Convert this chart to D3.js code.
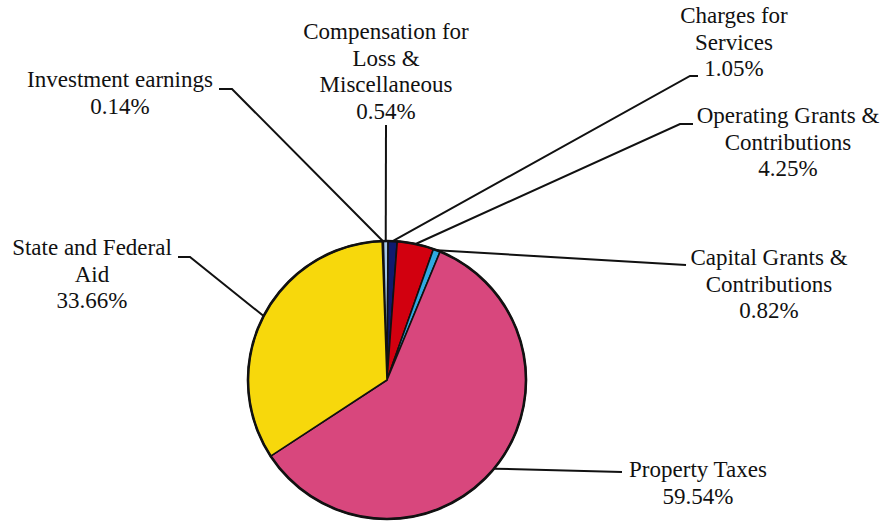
<!DOCTYPE html>
<html>
<head>
<meta charset="utf-8">
<script src="https://cdn.jsdelivr.net/npm/d3@7"></script>
<style>
  html, body { margin: 0; padding: 0; background: #fff; }
  svg { display: block; }
  text { font-family: 'Liberation Serif', 'Times New Roman', Times, 'DejaVu Serif', serif; }
</style>
</head>
<body>
<div id="pie-area"></div>
<script>
// revenue sources, clockwise from 12 o'clock
const categories = [
  "Investment earnings",
  "Compensation for Loss & Miscellaneous",
  "Charges for Services",
  "Operating Grants & Contributions",
  "Capital Grants & Contributions",
  "Property Taxes",
  "State and Federal Aid"
];
const values = [0.14, 0.54, 1.05, 4.25, 0.82, 59.54, 33.66];
const labelLines = [
  ["Investment earnings"],
  ["Compensation for", "Loss &", "Miscellaneous"],
  ["Charges for", "Services"],
  ["Operating Grants &", "Contributions"],
  ["Capital Grants &", "Contributions"],
  ["Property Taxes"],
  ["State and Federal", "Aid"]
];
const colors = ["#1a1a1a", "#a6c8ea", "#0f1a6e", "#d2000f", "#2fa9e2", "#d8477d", "#f7d80c"];

// label layout (text centre, first baseline, leader path after the pie point)
const labelPos = [
  {x: 120, y: 87, leader: [[232, 89], [219, 89]]},
  {x: 386, y: 39, leader: [[386, 125]]},
  {x: 734, y: 23, leader: [[690, 76], [698, 76]]},
  {x: 788, y: 123, leader: [[680, 124], [693, 124]]},
  {x: 769, y: 265, leader: [[686, 265]]},
  {x: 698, y: 477, leader: [[622, 472]]},
  {x: 92, y: 255, leader: [[190, 257], [178, 257]]}
];

const width = 886;
const height = 522;
const cx = 387, cy = 380, radius = 139;
const lineGap = 26.5;

const data = categories.map((c, i) => ({name: c, value: values[i], i}));

const pie = d3.pie()
  .sort(null)
  .value(d => d.value)
  .startAngle(-2 * Math.PI / 180)
  .endAngle(2 * Math.PI - 2 * Math.PI / 180);

const arc = d3.arc().innerRadius(0).outerRadius(radius);

const svg = d3.select('#pie-area').append('svg')
  .attr('width', width)
  .attr('height', height);

svg.append('rect').attr('width', width).attr('height', height).attr('fill', '#fff');

const arcs = pie(data);

// leader lines first so the pie covers their ends
const edge = a => {
  const m = (a.startAngle + a.endAngle) / 2;
  return [cx + radius * Math.sin(m), cy - radius * Math.cos(m)];
};

svg.append('g')
  .selectAll('path')
  .data(arcs)
  .join('path')
  .attr('fill', 'none')
  .attr('stroke', '#111')
  .attr('stroke-width', 2)
  .attr('d', a => d3.line()([edge(a), ...labelPos[a.data.i].leader]));

const g = svg.append('g').attr('transform', `translate(${cx},${cy})`);

g.selectAll('path')
  .data(arcs)
  .join('path')
  .attr('d', arc)
  .attr('fill', a => colors[a.data.i])
  .attr('stroke', '#111')
  .attr('stroke-width', 1.6)
  .attr('stroke-linejoin', 'round');

g.append('circle')
  .attr('r', radius)
  .attr('fill', 'none')
  .attr('stroke', '#111')
  .attr('stroke-width', 2.6);

// labels
const labels = svg.append('g')
  .attr('font-family', "'Liberation Serif', 'Times New Roman', serif")
  .attr('font-size', 23)
  .attr('fill', '#111')
  .attr('text-anchor', 'middle');

arcs.forEach(a => {
  const i = a.data.i;
  const lines = labelLines[i].concat([values[i].toFixed(2) + '%']);
  const t = labels.append('text')
    .attr('x', labelPos[i].x)
    .attr('y', labelPos[i].y);
  lines.forEach((s, k) => {
    t.append('tspan')
      .attr('x', labelPos[i].x)
      .attr('y', labelPos[i].y + k * lineGap)
      .text(s);
  });
});
</script>
</body>
</html>
